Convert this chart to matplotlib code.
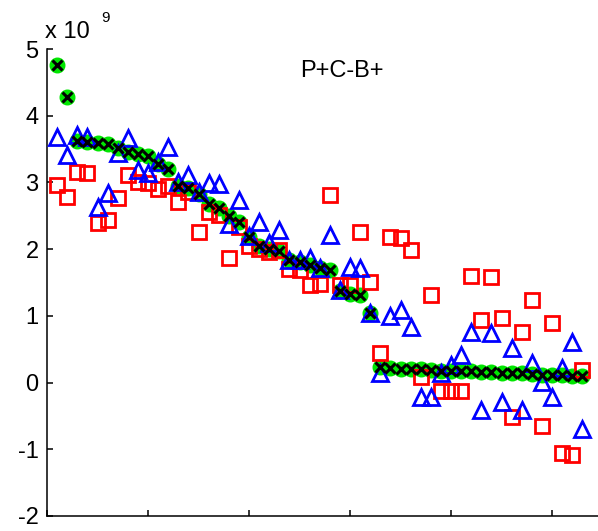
import matplotlib
matplotlib.use('Agg')
import matplotlib.pyplot as plt

# ---- data ----
x_idx = list(range(1, 54))
fit_vals = [4.76, 4.28, 3.62, 3.61, 3.59, 3.58, 3.52, 3.45, 3.42, 3.40,
            3.28, 3.20, 2.95, 2.92, 2.82, 2.68, 2.62, 2.50, 2.40, 2.18,
            2.05, 2.00, 1.97, 1.84, 1.80, 1.76, 1.72, 1.68, 1.38, 1.33,
            1.32, 1.05, 0.24, 0.22, 0.21, 0.20, 0.20, 0.19, 0.18, 0.18,
            0.17, 0.17, 0.16, 0.16, 0.15, 0.14, 0.14, 0.13, 0.12, 0.12,
            0.11, 0.10, 0.10]
blue_vals = [3.68, 3.41, 3.71, 3.68, 2.63, 2.84, 3.44, 3.67, 3.19, 3.14,
             3.30, 3.53, 3.00, 3.11, 2.85, 2.99, 2.97, 2.38, 2.74, 2.20,
             2.41, 2.09, 2.29, 1.84, 1.84, 1.87, 1.72, 2.21, 1.39, 1.73,
             1.72, 1.04, 0.14, 1.00, 1.09, 0.83, -0.22, -0.22, 0.14, 0.26,
             0.41, 0.76, -0.41, 0.74, -0.29, 0.52, -0.41, 0.29, 0.01, -0.22,
             0.22, 0.61, -0.69]
red_vals = [2.96, 2.78, 3.16, 3.14, 2.39, 2.44, 2.77, 3.11, 3.00, 2.99,
            2.90, 2.94, 2.70, 2.85, 2.25, 2.55, 2.51, 1.87, 2.33, 2.05,
            2.00, 1.96, 1.98, 1.70, 1.69, 1.46, 1.48, 2.81, 1.46, 1.46,
            2.26, 1.51, 0.44, 2.18, 2.17, 1.99, 0.08, 1.31, -0.12, -0.12,
            -0.12, 1.60, 0.94, 1.58, 0.97, -0.52, 0.76, 1.24, -0.65, 0.89,
            -1.06, -1.09, 0.19]
y_ticks = [-2, -1, 0, 1, 2, 3, 4, 5]
x_ticks = [0, 10, 20, 30, 40, 50]
title_text = "P+C-B+"
scale = 1e9

plt.rcParams['font.family'] = ['Liberation Sans', 'DejaVu Sans']

W, H = 598, 531
fig = plt.figure(figsize=(W / 100, H / 100), dpi=100)
left, bottom, top, right = 47, 516, 49, 598
ax = fig.add_axes([left / W, (H - bottom) / H, (right - left) / W, (bottom - top) / H])

fy = [v * scale for v in fit_vals]
by = [v * scale for v in blue_vals]
ry = [v * scale for v in red_vals]

ax.plot(x_idx, fy, linestyle='none', marker='o', markersize=10.5,
        markerfacecolor='#00e600', markeredgecolor='#00e600', zorder=2)
ax.plot(x_idx, ry, linestyle='none', marker='s', markersize=9.5,
        markerfacecolor='none', markeredgecolor='#ff0000', markeredgewidth=2.0, zorder=3)
ax.plot(x_idx, by, linestyle='none', marker='^', markersize=12,
        markerfacecolor='none', markeredgecolor='#0000ff', markeredgewidth=2.0, zorder=4)
ax.plot(x_idx, fy, linestyle='none', marker='x', markersize=7.5,
        markeredgecolor='black', markeredgewidth=2.2, zorder=5)

ax.set_xlim(0, (right - left) / 10.1)
ax.set_ylim(-2 * scale, 5 * scale)
ax.set_yticks([t * scale for t in y_ticks])
ax.set_yticklabels([str(t) for t in y_ticks])
ax.set_xticks(x_ticks)
ax.set_xticklabels([])

for s in ['top', 'right']:
    ax.spines[s].set_visible(False)
for s in ['left', 'bottom']:
    ax.spines[s].set_linewidth(1.1)
ax.tick_params(direction='in', length=4.5, width=1.1, labelsize=17, pad=6)

ax.text(29.2, 4.67 * scale, title_text, ha='center', va='center', fontsize=17)

fig.text(45 / W, 1 - 38 / H, "x 10", fontsize=17, ha='left', va='baseline')
fig.text(101 / W, 1 - 22 / H, "9", fontsize=11, ha='left', va='baseline')

fig.savefig('out.png', dpi=100)
